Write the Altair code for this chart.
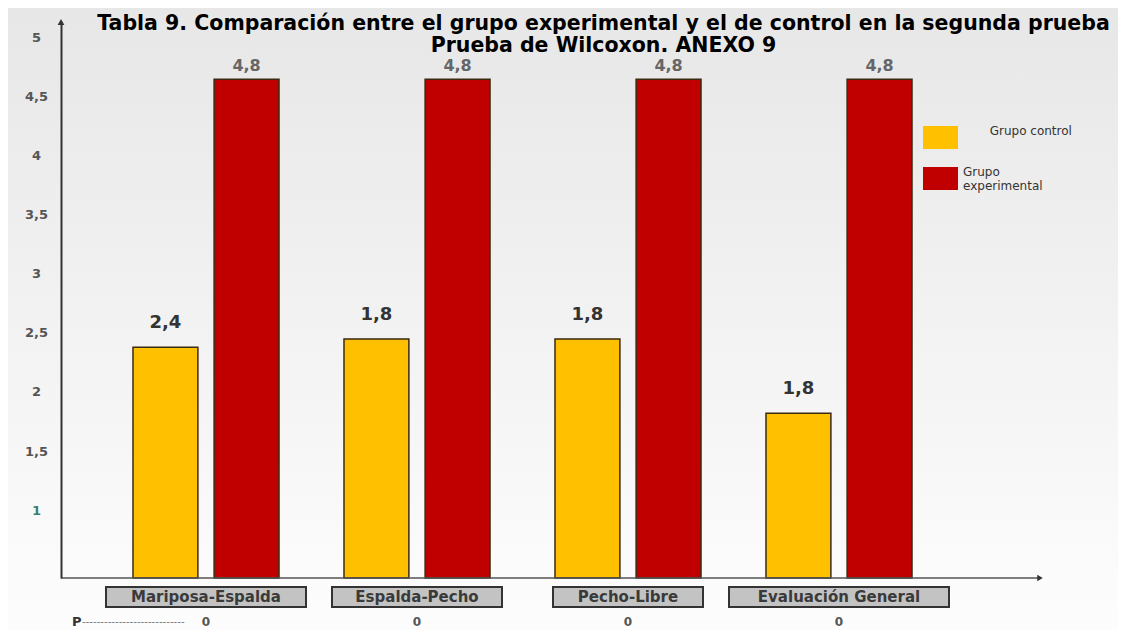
import altair as alt
import pandas as pd

# ---- data ----
categories = ["Mariposa-Espalda", "Espalda-Pecho", "Pecho-Libre", "Evaluación General"]
groups = ["Grupo control", "Grupo experimental"]
control_values = [2.38, 2.45, 2.45, 1.82]
experimental_values = [4.65, 4.65, 4.65, 4.65]
control_labels = ["2,4", "1,8", "1,8", "1,8"]
experimental_labels = ["4,8", "4,8", "4,8", "4,8"]
p_values = ["0", "0", "0", "0"]
y_ticks = [1, 1.5, 2, 2.5, 3, 3.5, 4, 4.5, 5]
title_lines = [
    "Tabla 9. Comparación entre el grupo experimental y el de control en la segunda prueba",
    "Prueba de Wilcoxon.  ANEXO 9",
]
p_row_label = "P"
p_row_dashes = "-" * 28

# ---- layout ----
W, H = 979, 556
PAD = {"left": 53, "top": 14, "right": 78, "bottom": 52}
Y_MIN, Y_MAX = 0.424, 5.135
FONT = "DejaVu Sans"

rows = []
for i, c in enumerate(categories):
    rows.append({"category": c, "group": groups[0], "value": control_values[i], "label": control_labels[i]})
    rows.append({"category": c, "group": groups[1], "value": experimental_values[i], "label": experimental_labels[i]})
df = pd.DataFrame(rows)
cat_df = pd.DataFrame({"category": categories, "p": p_values})
one = pd.DataFrame({"a": [0]})

x_enc = alt.X(
    "category:N",
    sort=categories,
    scale=alt.Scale(range=[39.5, 883.5], paddingInner=0.308, paddingOuter=0.154),
    axis=None,
)
xo_enc = alt.XOffset("group:N", sort=groups, scale=alt.Scale(paddingInner=0.2, paddingOuter=0))
y_enc = alt.Y(
    "value:Q",
    scale=alt.Scale(domain=[Y_MIN, Y_MAX], nice=False, zero=False),
    axis=alt.Axis(
        values=y_ticks,
        labelExpr="replace(toString(datum.value), '.', ',')",
        ticks=False,
        grid=False,
        title=None,
        zindex=1,
        domainColor="#333333",
        domainWidth=2,
        labelPadding=25,
        labelAlign="center",
        labelFont=FONT,
        labelFontSize=13,
        labelFontWeight="bold",
        labelColor={"condition": {"test": "datum.value === 1", "value": "#3b7f6e"}, "value": "#555555"},
    ),
)

zw = "\u200b"
nb = "\u00a0" * 7
legend = alt.Legend(
    title=None,
    orient="none",
    legendX=862,
    legendY=98,
    zindex=1,
    symbolType="M-1,-0.66H1V0.66H-1Z",
    symbolSize=1225,
    symbolStrokeWidth=0,
    symbolOpacity=1,
    labelFont=FONT,
    labelFontSize=12,
    labelColor="#333333",
    labelOffset=5,
    labelBaseline="bottom",
    rowPadding=11,
    labelExpr=(
        f"datum.label == 'Grupo control' ? '{zw}{nb}Grupo control' "
        ": ['Grupo', 'experimental']"
    ),
)

bg = alt.Chart(one).mark_rect(
    fill=alt.Gradient(
        gradient="linear",
        stops=[alt.GradientStop(offset=0, color="#e7e7e7"), alt.GradientStop(offset=1, color="#fdfdfd")],
        x1=0, x2=0, y1=0, y2=1,
    )
).encode(
    x=alt.value(-PAD["left"]), x2=alt.value(W + PAD["right"]),
    y=alt.value(-PAD["top"]), y2=alt.value(H + PAD["bottom"]),
)

bars = alt.Chart(df).mark_bar(stroke="#3a2a10", strokeWidth=1.5).encode(
    x=x_enc,
    xOffset=xo_enc,
    y=y_enc,
    y2=alt.datum(Y_MIN),
    color=alt.Color("group:N", scale=alt.Scale(domain=groups, range=["#FFC000", "#C00000"]), legend=legend),
)

txt_ctrl = alt.Chart(df).transform_filter(alt.datum.group == groups[0]).mark_text(
    font=FONT, fontSize=18, fontWeight="bold", color="#333333", baseline="middle", dy=-24
).encode(x=x_enc, xOffset=xo_enc, y="value:Q", text="label:N")

txt_exp = alt.Chart(df).transform_filter(alt.datum.group == groups[1]).mark_text(
    font=FONT, fontSize=16, fontWeight="bold", color="#666666", baseline="middle", dy=-13
).encode(x=x_enc, xOffset=xo_enc, y="value:Q", text="label:N")

xaxis_line = alt.Chart(one).mark_rule(color="#555555", strokeWidth=1.5).encode(
    x=alt.value(0), x2=alt.value(W), y=alt.value(H)
)
x_arrow = alt.Chart(one).mark_point(shape="triangle-right", filled=True, size=40, color="#333333", opacity=1).encode(
    x=alt.value(W), y=alt.value(H)
)
y_arrow = alt.Chart(one).mark_point(shape="triangle-up", filled=True, size=45, color="#333333", opacity=1).encode(
    x=alt.value(0), y=alt.value(0)
)

boxes = alt.Chart(cat_df).mark_rect(
    fill="#c3c3c3", stroke="#333333", strokeWidth=2,
    width=alt.ExprRef("length(datum.category) * 10 + 40"),
).encode(x=x_enc, y=alt.value(565), y2=alt.value(585))

box_text = alt.Chart(cat_df).mark_text(
    font=FONT, fontSize=15, fontWeight="bold", color="#3a3a3a", baseline="middle"
).encode(x=x_enc, y=alt.value(575), text="category:N")

p_text = alt.Chart(cat_df).mark_text(
    font=FONT, fontSize=12, fontWeight="bold", color="#555555", baseline="middle"
).encode(x=x_enc, y=alt.value(600), text="p:N")

p_lbl = alt.Chart(one).mark_text(
    font=FONT, fontSize=13, fontWeight="bold", color="#333333", baseline="middle", align="left"
).encode(x=alt.value(11), y=alt.value(600), text=alt.value(p_row_label))
p_dash = alt.Chart(one).mark_text(
    font="Liberation Sans", fontSize=11, color="#777777", baseline="middle", align="left"
).encode(x=alt.value(21), y=alt.value(600), text=alt.value(p_row_dashes))

chart = alt.layer(
    bg, bars, txt_ctrl, txt_exp, xaxis_line, x_arrow, y_arrow, boxes, box_text, p_text, p_lbl, p_dash
).properties(
    width=W,
    height=H,
    padding=PAD,
    autosize=alt.AutoSizeParams(type="none"),
    title=alt.TitleParams(
        text=title_lines,
        anchor="middle",
        font="DejaVu Sans",
        fontSize=20.5,
        fontWeight="bold",
        color="#000000",
        baseline="top",
        offset=0,
        dx=53,
        dy=48,
        lineHeight=22,
        zindex=1,
    ),
).configure_view(stroke=None).configure(background="#ffffff")

chart.save("out.html", embed_options={"renderer": "svg", "actions": False})
